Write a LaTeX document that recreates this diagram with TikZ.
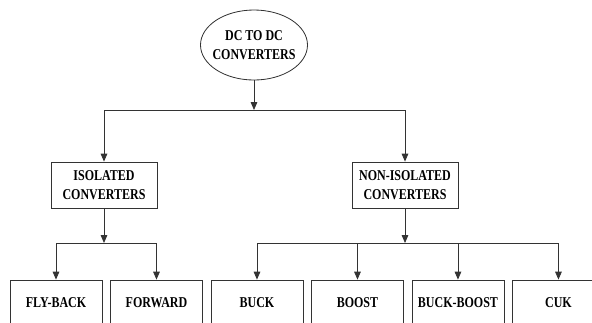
\documentclass[tikz,border=0pt]{standalone}
\usepackage{fontspec}
\setmainfont{Liberation Serif}[FakeStretch=0.8]
\usetikzlibrary{positioning, arrows.meta, shapes.geometric}
\definecolor{Line80}{HTML}{333333}
\newcommand{\boxfont}{\fontsize{12.8}{16}\selectfont\bfseries}

\begin{document}
\begin{tikzpicture}[x=0.03cm, y=-0.03cm,
    root/.style={ellipse, draw=Line80, line width=0.7pt, align=center, inner xsep=-0.13cm, inner ysep=0pt, minimum width=3.21cm, minimum height=2.1cm, font=\boxfont},
    group/.style={draw=Line80, line width=0.7pt, minimum width=3.18cm, minimum height=1.38cm, align=center, font=\boxfont},
    leaf/.style={draw=Line80, line width=0.7pt, minimum width=2.76cm, minimum height=1.38cm, align=center, font=\boxfont},
    arr/.style={-{Triangle[length=2.4mm, width=2mm]}, line width=0.7pt, color=Line80}
]
\clip (0,0) rectangle (592,322);

% Top of the tree
\node[root] (dcdc) at (254,45) {DC TO DC\\CONVERTERS};

% Two families
\node[group] (iso) at (104,185) {ISOLATED\\CONVERTERS};
\node[group] (noniso) at (405,185) {NON-ISOLATED\\CONVERTERS};

% Topologies
\node[leaf] (flyback) at (56,303) {FLY-BACK};
\node[leaf, right=0.23cm of flyback] (forward) {FORWARD};
\node[leaf, right=0.23cm of forward] (buck) {BUCK};
\node[leaf, right=0.23cm of buck] (boost) {BOOST};
\node[leaf, right=0.23cm of boost] (buckboost) {BUCK-BOOST};
\node[leaf, right=0.23cm of buckboost] (cuk) {CUK};

% Branch points
\coordinate (j1) at (254,110);
\coordinate (j2) at (104,243);
\coordinate (j3) at (405,243);

\draw[arr] (dcdc) -- (j1);
\draw[arr] (j1) -| (iso);
\draw[arr] (j1) -| (noniso);

\draw[arr] (iso) -- (j2);
\draw[arr] (j2) -| (flyback);
\draw[arr] (j2) -| (forward);

\draw[arr] (noniso) -- (j3);
\draw[arr] (j3) -| (buck);
\draw[arr] (j3) -| (boost);
\draw[arr] (j3) -| (buckboost);
\draw[arr] (j3) -| (cuk);

\end{tikzpicture}
\end{document}
